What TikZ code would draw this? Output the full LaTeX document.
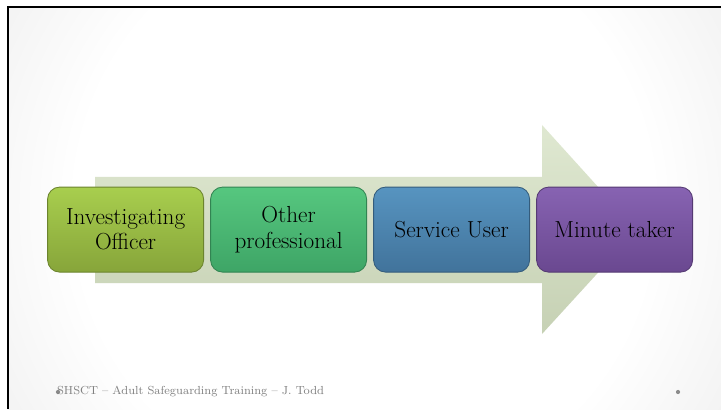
\documentclass[tikz,border=0pt]{standalone}
\usepackage{amsmath,amssymb}
\usepackage{tikz}
\usetikzlibrary{shapes,arrows,positioning,calc}
\usepackage{xcolor}

\definecolor{officerTop}{HTML}{A8CE4E}
\definecolor{officerBot}{HTML}{87A53A}
\definecolor{otherTop}{HTML}{56C77F}
\definecolor{otherBot}{HTML}{3EA566}
\definecolor{userTop}{HTML}{5794C0}
\definecolor{userBot}{HTML}{41739B}
\definecolor{minuteTop}{HTML}{8763B2}
\definecolor{minuteBot}{HTML}{6A4890}
\definecolor{arrowTop}{HTML}{DFE8D1}
\definecolor{arrowBot}{HTML}{C6D1B4}

\pgfdeclareradialshading{slidebg}{\pgfpoint{0bp}{0bp}}{color(0bp)=(white); color(17bp)=(white); color(48bp)=(black!20); color(50bp)=(black!20)}

\begin{document}
\begin{tikzpicture}[
    stage/.style={draw, rounded corners=0.3cm, minimum width=3.9cm, minimum height=2.125cm, align=center, font=\fontsize{16.5}{18}\selectfont, line width=0.6pt},
    footdot/.style={circle, fill=black!45, inner sep=0pt, minimum size=3pt}
]
    % slide background and frame
    \useasboundingbox (0,0) rectangle (18.025,-10.225);
    \begin{scope}
        \clip (0.2,-0.175) rectangle (18.025,-10.225);
        \shade[shading=slidebg] (9.1,-5.2) circle (10.6cm);
    \end{scope}
    \draw[line width=2pt] (0.2,-10.225) -- (0.2,-0.175) -- (18.025,-0.175);

    % big arrow behind the stages
    \shade[top color=arrowTop, bottom color=arrowBot] (2.375,-4.425) -- (13.55,-4.425) -- (13.55,-3.125) -- (15.925,-5.75) -- (13.55,-8.35) -- (13.55,-7.075) -- (2.375,-7.075) -- cycle;

    \node[stage, top color=officerTop, bottom color=officerBot, draw=officerBot!80!black] (officer) at (3.14,-5.74) {Investigating\\Officer};
    \node[stage, top color=otherTop, bottom color=otherBot, draw=otherBot!80!black] (other) at (7.215,-5.74) {Other\\professional};
    \node[stage, top color=userTop, bottom color=userBot, draw=userBot!80!black] (user) at (11.29,-5.74) {Service User};
    \node[stage, top color=minuteTop, bottom color=minuteBot, draw=minuteBot!80!black] (minute) at (15.365,-5.74) {Minute taker};

    % footer
    \node[footdot] (dotL) at (1.45,-9.8) {};
    \node[anchor=west, inner sep=0pt, text=black!50, font=\fontsize{8.3}{10}\selectfont] (footer) at (1.42,-9.8) {SHSCT -- Adult Safeguarding Training -- J. Todd};
    \node[footdot] (dotR) at (16.95,-9.8) {};
\end{tikzpicture}
\end{document}
